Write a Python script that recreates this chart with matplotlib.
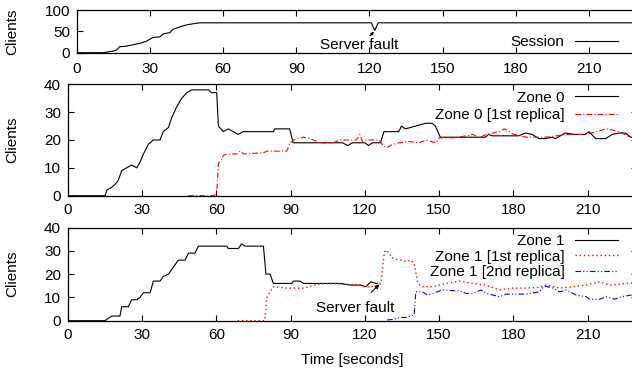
import matplotlib
matplotlib.use('Agg')
from matplotlib import pyplot as plt

# session (all clients)
session_t = [0, 10.8, 12.8, 15, 16.2, 17.5, 20, 22.4, 25.8, 28.5, 31.3, 34, 35.4, 38.1, 39.5,
             41, 43, 45.7, 49.1, 50.4, 120.8, 122.2, 123.6, 230]
session_v = [0, 0, 2, 4, 6, 14, 15, 18, 22, 27, 36, 37, 44, 47, 55,
             58, 62, 66, 69, 70, 70, 52, 70, 70]

# zone 0
zone0_t = [0, 15, 15.7, 17.6, 19, 20.3, 21.7, 23.7, 25.7, 27.8, 29.1, 30.5, 32.5, 34.5, 37.2,
           38.5, 40.6, 41.9, 44, 46, 48, 50, 56.8, 58, 60.1, 60.8, 62.8, 64.8, 66.8, 68.8,
           70.8, 83, 83.6, 89.6, 91, 111, 113, 115, 120, 121.5, 123, 126.3, 127.7, 133.7,
           134.8, 136.4, 140.5, 144.5, 147.2, 148.5, 150.5, 168.7, 170, 171.4, 182, 185,
           187.6, 190.3, 193, 195.7, 197, 201, 205, 209, 210.6, 213.3, 217.3, 220, 222.7,
           225.4, 227.4, 230]
zone0_v = [0, 0, 2, 3, 4, 5.5, 9, 10, 11, 10, 12, 15, 18.5, 20, 20,
           23, 24.5, 28, 32, 35, 37, 38, 38, 37, 37, 25, 23, 24, 23, 22,
           23, 23, 24, 24, 19, 19, 18, 19, 19, 18, 19, 19, 23, 23,
           25, 24, 25, 26, 26, 25, 21, 21, 22, 21.5, 21.5, 22.5,
           22, 20.5, 20.5, 21, 20.5, 22.5, 22, 22, 23, 20.5, 20.5, 22, 22.5,
           22.5, 21, 21]

zone0_r1_t = [48.6, 59, 60.1, 60.8, 62.1, 62.8, 64.2, 68.2, 69.6, 70.9, 79, 80.4, 88.4, 89.8,
              91.2, 95.2, 97.9, 101.8, 107.2, 109.9, 116.6, 118, 119, 120.4, 125.8, 127.1,
              128.7, 131.2, 133.9, 137.9, 142, 144.7, 148.7, 150.1, 156.8, 163.6, 166.3, 169,
              174.4, 176.4, 179.8, 185.2, 193.3, 201.4, 209.5, 217.6, 223, 227, 230]
zone0_r1_v = [0, 0, 1, 11.5, 13, 14.5, 15, 15, 16, 15, 15.4, 16, 16, 19,
              20, 21, 20.5, 19, 19, 20, 20, 22, 19.5, 20, 20, 18.4,
              17.2, 18.4, 19, 19.4, 19, 20, 19, 20.8, 20.8, 22, 20.8, 22,
              23, 24, 22.2, 21, 21, 22, 22, 24, 23, 21, 21]

# zone 1
zone1_t = [0, 15, 15.7, 17.7, 21, 21.7, 24.4, 25.7, 27.8, 29.1, 30.5, 33.2, 34.5, 37.2, 38.5,
           40.6, 42.6, 44.6, 47.3, 48.7, 51.3, 52.7, 64.2, 64.8, 68.9, 70.2, 71.6, 79, 80,
           81.7, 83, 90.5, 91.2, 93.8, 95.2, 110, 114, 118, 120.4, 122.4, 124.5, 125]
zone1_v = [0, 0, 0.6, 2, 2, 6, 6, 9, 9, 10, 12, 12, 17, 17, 19,
           20, 23, 26, 26, 29, 29, 32, 32, 31, 31, 33, 32, 32, 20,
           20, 16, 16, 17, 17, 16, 16, 15.3, 15.3, 14.6, 16.7, 16, 16]

zone1_r1_t = [68.6, 79.5, 80.4, 81.7, 83, 88.4, 95.2, 99.2, 100.5, 107.2, 118, 120.4, 124.5,
              126.5, 127.9, 128.8, 131.2, 133.9, 136.6, 138.6, 139.9, 141.3, 142.6, 147.4,
              152.8, 158.2, 163.6, 169, 174.4, 179.8, 185.2, 190.6, 193.3, 198.7, 204.1,
              209.5, 214.9, 219, 223, 227.7, 230]
zone1_r1_v = [0, 0, 10, 12.4, 14.6, 14, 14, 15, 15.7, 16, 15.3, 14.3, 14.9,
              16, 29.6, 30.3, 26.8, 26.1, 25.4, 26, 24.7, 16.7, 14.6, 14.6,
              16, 17, 16, 15.3, 13.2, 14, 14, 14.3, 15.3, 14, 14.6,
              15.3, 16.7, 15.3, 15.7, 16.2, 16]

zone1_r2_t = [129, 131.7, 133.9, 136.6, 139.9, 140.6, 143.3, 145.3, 147.4, 151.4, 155.4, 158.2,
              160.9, 163.6, 167, 169, 174.4, 177.1, 185.2, 190.6, 192.6, 196, 198.7, 201.4,
              205.4, 209.5, 210.9, 214.9, 217.6, 221, 223.7, 227.7, 230]
zone1_r2_v = [0.3, 0.6, 1.4, 1.4, 2.4, 12.4, 12.4, 11, 11.7, 13.2, 12.9, 12.9,
              11.7, 11.7, 13.2, 11.7, 10.3, 11.4, 11.4, 12.4, 14.9, 14, 12.4, 13.2,
              11, 10.3, 9.2, 9.2, 10.3, 9.2, 10.3, 11, 11]

xticks = [0, 30, 60, 90, 120, 150, 180, 210]

plt.rcParams['font.family'] = ['Liberation Sans', 'DejaVu Sans']
plt.rcParams['font.size'] = 11

fig = plt.figure(figsize=(6.32, 3.72), dpi=100)
W, H = 632.0, 372.0


def make_axes(left, top, right, bottom):
    # pixel coords -> figure fraction
    return fig.add_axes([left / W, 1 - bottom / H, (right - left) / W, (bottom - top) / H])


ax0 = make_axes(77, 10, 637.5, 52.7)
ax1 = make_axes(68, 84.3, 637, 195.7)
ax2 = make_axes(68, 227.5, 637, 320.7)

for ax in (ax0, ax1, ax2):
    ax.set_xlim(0, 230)
    ax.set_xticks(xticks)
    ax.tick_params(direction='in', top=True, right=True, length=4, width=0.8)
    ax.tick_params(axis='x', pad=5)
    ax.tick_params(axis='y', pad=5)
    for s in ax.spines.values():
        s.set_linewidth(0.9)
    ax.set_ylabel('Clients')

# top: session
ax0.plot(session_t, session_v, color='black', lw=0.8, label='Session')
ax0.set_ylim(0, 100)
ax0.set_yticks([0, 50, 100])
ax0.tick_params(axis='x', pad=7)
ax0.yaxis.set_label_coords(-0.1027, 0.5)
ax0.annotate('Server fault', xy=(121.9, 49), xytext=(116, 17), ha='center', va='center',
             arrowprops=dict(arrowstyle='-|>', color='black', lw=0.8, mutation_scale=4,
                             shrinkA=6, shrinkB=0))
ax0.legend(loc='lower right', bbox_to_anchor=(618 / W, 1 - 49 / H), bbox_transform=fig.transFigure,
           frameon=False, markerfirst=False, handlelength=2.8, handletextpad=0.7,
           borderpad=0, borderaxespad=0)

# middle: zone 0
ax1.plot(zone0_t, zone0_v, color='black', lw=0.8, label='Zone 0')
ax1.plot(zone0_r1_t, zone0_r1_v, color='red', lw=0.8, dashes=(5, 2, 1, 2),
         label='Zone 0 [1st replica]')
ax1.set_ylim(0, 40)
ax1.set_yticks([0, 10, 20, 30, 40])
ax1.yaxis.set_label_coords(-0.0852, 0.5)
ax1.legend(loc='upper right', bbox_to_anchor=(618 / W, 1 - 90.5 / H), bbox_transform=fig.transFigure,
           frameon=False, markerfirst=False, handlelength=2.8, handletextpad=0.7,
           borderpad=0, borderaxespad=0, labelspacing=0.25)

# bottom: zone 1
ax2.plot(zone1_t, zone1_v, color='black', lw=0.8, label='Zone 1')
ax2.plot(zone1_r1_t, zone1_r1_v, color='red', lw=1.0, dashes=(1, 2),
         label='Zone 1 [1st replica]')
ax2.plot(zone1_r2_t, zone1_r2_v, color='blue', lw=0.8, dashes=(5, 2, 1, 2, 1, 2),
         label='Zone 1 [2nd replica]')
ax2.set_ylim(0, 40)
ax2.set_yticks([0, 10, 20, 30, 40])
ax2.yaxis.set_label_coords(-0.0852, 0.5)
ax2.set_xlabel('Time [seconds]', labelpad=8)
ax2.annotate('Server fault', xy=(125.9, 15.6), xytext=(116, 5.5), ha='center', va='center',
             arrowprops=dict(arrowstyle='-|>', color='black', lw=0.8, mutation_scale=6,
                             shrinkA=6, shrinkB=0))
ax2.legend(loc='upper right', bbox_to_anchor=(618 / W, 1 - 234 / H), bbox_transform=fig.transFigure,
           frameon=False, markerfirst=False, handlelength=2.8, handletextpad=0.7,
           borderpad=0, borderaxespad=0, labelspacing=0.1)

fig.savefig('out.png', dpi=100)
